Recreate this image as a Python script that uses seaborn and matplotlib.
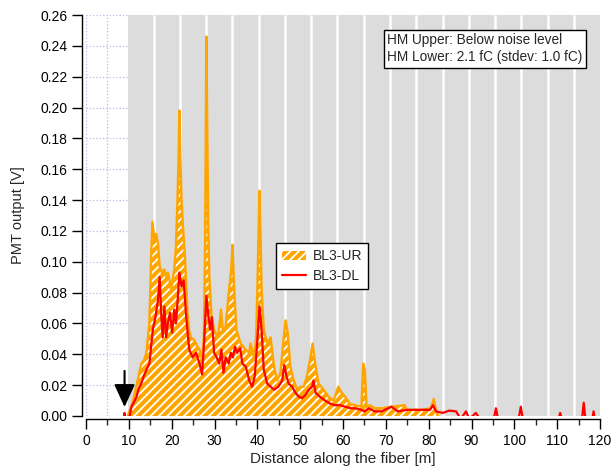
"""
BL3 fiber scan: PMT output along the fiber (UR vs DL)
"""
import numpy as np
import pandas as pd
import matplotlib
matplotlib.use('Agg')
import matplotlib.pyplot as plt
from matplotlib.ticker import MultipleLocator, FormatStrFormatter
from matplotlib.patches import Patch
from matplotlib.lines import Line2D
import seaborn as sns

# BL3-UR (upper)
# (quiet stretches sit just under zero, so they vanish below the axis as in the original)
ur_dist = [9.5, 10.0, 10.8, 11.4, 12.2, 12.9, 13.5, 14.1, 14.8, 15.2, 15.5, 16.0, 16.4, 16.8,
           17.2, 17.7, 18.3, 18.7, 19.1, 19.5, 19.9, 20.3, 20.6, 21.0, 21.3, 21.6, 21.8, 22.0,
           22.3, 22.6, 23.1, 23.4, 23.7, 24.1, 24.5, 25.3, 26.0, 26.5, 27.1, 27.5, 27.8, 28.1,
           28.3, 28.5, 28.8, 29.3, 29.9, 30.7, 31.2, 31.5, 32.0, 32.6, 33.4, 33.9, 34.2, 34.6,
           35.1, 36.1, 37.3, 38.1, 38.4, 39.2, 39.7, 40.0, 40.3, 40.5, 40.8, 41.0, 41.5, 42.3,
           43.1, 43.9, 44.6, 45.4, 46.0, 46.6, 47.1, 47.7, 48.5, 49.3, 50.0, 50.8, 51.6, 52.4,
           52.9, 53.5, 54.3, 55.5, 56.6, 57.8, 58.9, 59.7, 60.5, 61.6, 62.8, 64.3, 64.7, 65.1,
           65.5, 66.3, 67.4, 69.0, 71.3, 74.4, 74.8, 78.3, 80.5, 81.2, 81.7, 82.5, 120.0]
ur_pmt = [-0.002, 0.002, 0.008, 0.015, 0.025, 0.034, 0.036, 0.041, 0.060, 0.103, 0.126, 0.114, 0.118, 0.112,
          0.097, 0.093, 0.095, 0.090, 0.093, 0.088, 0.082, 0.090, 0.095, 0.110, 0.135, 0.165, 0.198, 0.170,
          0.140, 0.125, 0.103, 0.085, 0.067, 0.055, 0.051, 0.049, 0.045, 0.043, 0.036, 0.050, 0.110, 0.246,
          0.190, 0.130, 0.090, 0.065, 0.056, 0.051, 0.060, 0.069, 0.054, 0.058, 0.082, 0.095, 0.111, 0.082,
          0.056, 0.047, 0.043, 0.041, 0.047, 0.038, 0.050, 0.082, 0.120, 0.146, 0.110, 0.082, 0.056, 0.047,
          0.051, 0.032, 0.023, 0.028, 0.047, 0.062, 0.054, 0.032, 0.023, 0.017, 0.019, 0.019, 0.026, 0.038,
          0.047, 0.034, 0.021, 0.017, 0.0125, 0.010, 0.019, 0.015, 0.0125, 0.008, 0.007, 0.006, 0.034, 0.030,
          0.006, 0.007, 0.005, 0.005, 0.006, 0.007, 0.004, 0.004, 0.005, 0.011, 0.004, -0.002, -0.002]

# BL3-DL (lower)
dl_dist = [8.8, 9.0, 9.2, 10.2, 10.6, 11.2, 11.8, 12.3, 12.9, 13.5, 14.1, 14.8, 15.2, 15.6, 16.2,
           16.8, 17.2, 17.6, 17.9, 18.3, 18.7, 19.1, 19.6, 20.1, 20.6, 21.0, 21.4, 21.8, 22.3,
           22.8, 23.4, 24.1, 24.9, 25.7, 26.5, 27.1, 27.6, 28.1, 28.6, 29.0, 29.4, 29.9, 30.5,
           31.1, 31.6, 32.1, 32.6, 33.3, 33.8, 34.3, 34.8, 35.3, 36.0, 36.5, 37.3, 38.1, 38.8,
           39.4, 40.0, 40.5, 41.0, 41.5, 42.3, 43.1, 43.9, 44.9, 45.8, 46.3, 46.8, 47.3, 48.1,
           48.9, 49.7, 50.4, 51.2, 52.0, 52.8, 53.1, 53.6, 54.6, 55.8, 57.0, 58.1, 59.3, 60.5,
           61.9, 62.8, 64.3, 65.0, 66.0, 67.4, 69.0, 71.3, 72.8, 75.0, 78.2, 80.3, 81.0, 81.7,
           83.3, 84.8, 86.4, 87.5, 88.7, 89.5, 91.0, 92.0, 95.2, 95.7, 96.2, 101.0, 101.5, 102.0,
           110.3, 110.7, 111.1, 115.8, 116.2, 116.6, 118.2, 118.5, 118.8, 120.0]
dl_pmt = [-0.002, 0.002, -0.002, 0.0, 0.006, 0.009, 0.0125, 0.018, 0.021, 0.026, 0.030, 0.034, 0.045, 0.056, 0.064,
          0.075, 0.090, 0.064, 0.051, 0.071, 0.051, 0.060, 0.067, 0.054, 0.069, 0.060, 0.075, 0.093, 0.084,
          0.088, 0.064, 0.043, 0.038, 0.041, 0.034, 0.027, 0.049, 0.078, 0.064, 0.056, 0.064, 0.041, 0.038,
          0.034, 0.043, 0.028, 0.038, 0.034, 0.041, 0.038, 0.045, 0.041, 0.044, 0.034, 0.032, 0.023, 0.019,
          0.026, 0.049, 0.071, 0.056, 0.030, 0.021, 0.019, 0.017, 0.019, 0.023, 0.033, 0.026, 0.021, 0.019,
          0.015, 0.0125, 0.0115, 0.0136, 0.017, 0.019, 0.023, 0.015, 0.0125, 0.010, 0.008, 0.007, 0.007, 0.006,
          0.005, 0.005, 0.004, 0.003, 0.005, 0.003, 0.003, 0.006, 0.003, 0.004, 0.004, 0.004, 0.007, 0.003,
          0.002, 0.0035, 0.003, -0.002, 0.003, -0.002, 0.002, -0.002, -0.002, 0.005, -0.002, -0.002, 0.006, -0.002,
          -0.002, 0.002, -0.002, -0.002, 0.0086, -0.002, -0.002, 0.003, -0.002, -0.002]

# fiber segment boundaries (gray bands)
seg_edges = [9.7, 15.8, 21.9, 28.1, 34.2, 40.3, 46.5, 52.6, 58.7, 64.9, 71.0,
             77.1, 83.3, 89.4, 95.5, 101.6, 107.8, 113.9, 120.0]

info_text = "HM Upper: Below noise level\nHM Lower: 2.1 fC (stdev: 1.0 fC)"

ur_df = pd.DataFrame({'dist': ur_dist, 'pmt': ur_pmt})
dl_df = pd.DataFrame({'dist': dl_dist, 'pmt': dl_pmt})

sns.set_style('ticks')
plt.rcParams['font.family'] = ['Liberation Sans', 'DejaVu Sans']
plt.rcParams['hatch.color'] = 'white'
plt.rcParams['hatch.linewidth'] = 1.3

fig = plt.figure(figsize=(6.13, 4.66), dpi=100)
ax = fig.add_axes([0.1403, 0.1073, 0.8385, 0.8605])

orange = '#FFA500'
red = '#FF0000'

# segment background
ax.axvspan(seg_edges[0], seg_edges[-1], color='#DCDCDC', lw=0, zorder=1)
ax.vlines(seg_edges[1:-1], 0, 0.26, color='white', lw=1.8, zorder=1.2)

# BL3-UR hatched area
ax.fill_between(ur_df['dist'], ur_df['pmt'], 0, facecolor=orange, edgecolor='white',
                hatch='////', lw=0, zorder=2)
sns.lineplot(data=ur_df, x='dist', y='pmt', color=orange, lw=1.7, ax=ax, zorder=3,
             sort=False, estimator=None)
sns.lineplot(data=dl_df, x='dist', y='pmt', color=red, lw=1.6, ax=ax, zorder=4,
             sort=False, estimator=None)

ax.set_xlim(0, 120)
ax.set_ylim(0, 0.26)
ax.xaxis.set_major_locator(MultipleLocator(10))
ax.xaxis.set_minor_locator(MultipleLocator(5))
ax.yaxis.set_major_locator(MultipleLocator(0.02))
ax.yaxis.set_major_formatter(FormatStrFormatter('%.2f'))

ax.set_axisbelow(True)
ax.grid(True, which='both', axis='x', color='#B8B8E8', ls=':', lw=0.9)
ax.grid(True, which='major', axis='y', color='#B8B8E8', ls=':', lw=0.9)

for s in ['top', 'right']:
    ax.spines[s].set_visible(False)
ax.spines['left'].set_position(('outward', 3))
ax.spines['bottom'].set_position(('outward', 2.2))
for s in ['left', 'bottom']:
    ax.spines[s].set_linewidth(1.0)
    ax.spines[s].set_color('black')

ax.tick_params(axis='both', which='major', direction='out', length=7, width=1.0,
               labelsize=10, colors='black')
ax.tick_params(axis='x', which='minor', direction='out', length=4, width=1.0)

ax.set_xlabel('Distance along the fiber [m]', fontsize=11, labelpad=3)
ax.set_ylabel('PMT output [V]', fontsize=10.5, labelpad=11)

handles = [Patch(facecolor=orange, edgecolor='white', hatch='////', lw=0),
           Line2D([0], [0], color=red, lw=1.6)]
leg = ax.legend(handles, ['BL3-UR', 'BL3-DL'], loc='upper left',
                bbox_to_anchor=(0.369, 0.431), borderaxespad=0, fontsize=10,
                frameon=True, fancybox=False, framealpha=1, edgecolor='black',
                handlelength=1.7, handletextpad=0.5, borderpad=0.45, labelspacing=0.4)
leg.get_frame().set_linewidth(1.0)
leg.set_zorder(10)

ax.text(0.586, 0.954, info_text, transform=ax.transAxes, fontsize=9.8, va='top', ha='left',
        linespacing=1.25, zorder=10,
        bbox=dict(boxstyle='square,pad=0.25', facecolor='white', edgecolor='black', lw=1.0))

# marker arrow at the fiber start
ax.annotate('', xy=(9.0, 0.004), xytext=(9.0, 0.031),
            arrowprops=dict(arrowstyle='-|>,head_length=0.7,head_width=0.32',
                            color='black', lw=1.5, mutation_scale=20),
            zorder=11, annotation_clip=False)

fig.savefig('out.png', dpi=100)
